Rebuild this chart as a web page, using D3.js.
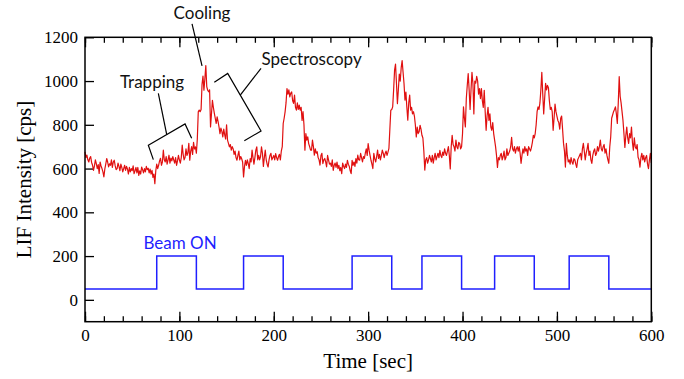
<!DOCTYPE html>
<html>
<head>
<meta charset="utf-8">
<script src="https://cdn.jsdelivr.net/npm/d3@7"></script>
<style>
  body { margin: 0; background: #fff; }
  svg { display: block; }
</style>
</head>
<body>
<svg id="chart"></svg>
<script>
// LIF signal, one value per second from t = 0 to 600 s
const lifCps = [
  676, 650, 662, 640, 630, 648, 655, 628, 615, 592, 612, 640, 622, 600, 618, 578, 630, 612, 600, 585,
  562, 598, 620, 646, 630, 608, 622, 615, 640, 605, 630, 638, 612, 595, 600, 625, 610, 590, 620, 605,
  585, 600, 615, 592, 610, 598, 575, 605, 585, 600, 590, 612, 577, 590, 605, 580, 605, 569, 590, 575,
  607, 595, 580, 600, 585, 610, 595, 601, 580, 598, 575, 592, 560, 575, 531, 590, 620, 600, 615, 635,
  647, 615, 630, 684, 640, 630, 655, 620, 640, 661, 625, 648, 635, 655, 640, 625, 650, 615, 635, 660,
  640, 625, 650, 707, 665, 640, 650, 690, 660, 672, 715, 638, 680, 700, 665, 720, 690, 699, 670, 735,
  859, 867, 860, 870, 985, 1023, 958, 1010, 1071, 975, 958, 951, 960, 790, 850, 912, 880, 853, 830, 806,
  836, 815, 790, 760, 785, 770, 745, 780, 755, 735, 800, 730, 715, 699, 710, 684, 700, 690, 665, 680,
  650, 638, 660, 680, 640, 655, 645, 630, 562, 610, 638, 615, 640, 623, 600, 645, 630, 684, 650, 620,
  650, 684, 699, 640, 660, 640, 655, 699, 670, 610, 650, 684, 640, 620, 607, 640, 660, 670, 640, 650,
  660, 640, 668, 650, 638, 655, 665, 640, 680, 700, 806, 830, 859, 900, 966, 940, 960, 928, 945, 950,
  910, 898, 936, 880, 867, 900, 870, 890, 867, 880, 820, 860, 800, 684, 760, 730, 745, 714, 700, 684,
  684, 730, 700, 661, 690, 670, 677, 650, 640, 616, 660, 670, 623, 640, 646, 630, 608, 660, 640, 620,
  625, 610, 640, 592, 615, 625, 605, 630, 600, 615, 590, 605, 577, 625, 610, 600, 620, 605, 638, 620,
  610, 590, 577, 638, 615, 630, 610, 645, 625, 661, 640, 638, 669, 650, 630, 655, 646, 670, 690, 660,
  714, 684, 660, 638, 620, 600, 669, 645, 630, 655, 684, 646, 665, 640, 660, 684, 670, 650, 669, 680,
  660, 675, 692, 780, 867, 870, 882, 960, 1050, 1078, 990, 897, 960, 1032, 1000, 1060, 1094, 1040, 989, 913,
  950, 880, 821, 900, 936, 867, 880, 850, 860, 840, 800, 745, 790, 760, 768, 798, 780, 752, 740, 680,
  593, 640, 650, 625, 640, 660, 645, 630, 660, 625, 650, 670, 640, 655, 670, 650, 683, 660, 650, 675,
  660, 690, 670, 660, 680, 700, 660, 598, 700, 752, 710, 700, 680, 730, 700, 690, 720, 714, 690, 700,
  760, 882, 830, 790, 920, 980, 1034, 960, 870, 960, 1040, 990, 850, 1000, 990, 1022, 1000, 940, 966, 920,
  966, 910, 880, 958, 860, 775, 840, 880, 820, 850, 790, 775, 810, 760, 730, 700, 660, 605, 650, 640,
  660, 670, 640, 655, 680, 640, 650, 690, 660, 670, 680, 700, 743, 690, 680, 700, 670, 690, 700, 680,
  700, 670, 624, 660, 690, 670, 700, 680, 690, 660, 700, 690, 680, 697, 720, 752, 740, 760, 800, 860,
  882, 870, 900, 960, 1040, 940, 850, 920, 990, 960, 980, 970, 910, 870, 880, 860, 775, 830, 895, 860,
  840, 820, 810, 780, 830, 840, 780, 715, 680, 607, 715, 660, 630, 640, 620, 650, 630, 620, 645, 640,
  620, 605, 640, 650, 660, 670, 640, 690, 715, 680, 640, 670, 690, 715, 660, 680, 640, 624, 660, 680,
  690, 660, 670, 700, 680, 700, 730, 690, 680, 700, 710, 670, 690, 660, 640, 624, 700, 745, 830, 845,
  860, 870, 882, 850, 806, 900, 1020, 930, 900, 860, 820, 760, 697, 750, 790, 740, 715, 760, 740, 790,
  720, 684, 740, 700, 690, 710, 652, 640, 606, 650, 670, 640, 660, 630, 650, 660, 620, 600, 640, 670,
  626
];

// beam on/off periods [sec]
const beamOn  = [76, 168, 283, 357, 434, 513];
const beamOff = [118, 210, 325, 399, 476, 555];
const beamLow = 50;
const beamHigh = 200;

const xTicks = [0, 100, 200, 300, 400, 500, 600];
const yTicks = [0, 200, 400, 600, 800, 1000, 1200];

// annotation labels, in data units
const notes = [
  { text: 'Cooling', t: 124, v: 1282 },
  { text: 'Trapping', t: 71, v: 966 },
  { text: 'Spectroscopy', t: 240, v: 1073 }
];
const noteLines = [
  [[113.4, 1261], [124, 1069]],
  [[72.4, 641], [67.1, 707], [106, 804], [113, 738]],
  [[77.7, 944], [86.6, 755]],
  [[137, 994], [151.2, 1035], [186.5, 772], [168.8, 727]],
  [[164.5, 936], [186.5, 1058]]
];

function drawChart() {
  const width = 684, height = 379;
  const chart = d3.select('#chart')
    .attr('width', width)
    .attr('height', height);

  const x = d3.scaleLinear().domain([0, 600]).range([85, 651.3]);
  const y = d3.scaleLinear().domain([-100, 1200]).range([321.7, 37.3]);

  const serif = '"Liberation Serif", "Times New Roman", serif';
  const sans = 'Lato, "Open Sans", sans-serif';
  const fmt = d3.format('d');

  // minor ticks bottom / top
  const minor = d3.range(0, 601, 20);
  chart.append('g')
    .attr('transform', `translate(0,${y(-100)})`)
    .call(d3.axisBottom(x).tickValues(minor).tickSizeInner(-5.5).tickSizeOuter(0).tickFormat(''))
    .call(g => g.select('.domain').remove());
  chart.append('g')
    .attr('transform', `translate(0,${y(1200)})`)
    .call(d3.axisTop(x).tickValues(minor).tickSizeInner(-5.5).tickSizeOuter(0).tickFormat(''))
    .call(g => g.select('.domain').remove());

  // major ticks
  chart.append('g')
    .attr('transform', `translate(0,${y(-100)})`)
    .call(d3.axisBottom(x).tickValues(xTicks).tickSizeInner(-10).tickSizeOuter(0).tickPadding(7).tickFormat(fmt))
    .call(g => g.select('.domain').remove());
  chart.append('g')
    .attr('transform', `translate(0,${y(1200)})`)
    .call(d3.axisTop(x).tickValues(xTicks).tickSizeInner(-10).tickSizeOuter(0).tickFormat(''))
    .call(g => g.select('.domain').remove());
  chart.append('g')
    .attr('transform', `translate(${x(0)},0)`)
    .call(d3.axisLeft(y).tickValues(yTicks).tickSizeInner(-9).tickSizeOuter(0).tickPadding(7).tickFormat(fmt))
    .call(g => g.select('.domain').remove());

  chart.selectAll('.tick text')
    .style('font-family', serif)
    .style('font-size', '17px')
    .attr('fill', '#000');
  chart.selectAll('.tick line').attr('stroke', '#000').attr('stroke-width', 1.3);

  // beam on trace
  const beamPts = [[0, beamLow]];
  beamOn.forEach((t0, i) => {
    beamPts.push([t0, beamLow], [t0, beamHigh], [beamOff[i], beamHigh], [beamOff[i], beamLow]);
  });
  beamPts.push([600, beamLow]);

  const line = d3.line().x(d => x(d[0])).y(d => y(d[1]));

  chart.append('path')
    .attr('d', line(beamPts))
    .attr('fill', 'none')
    .attr('stroke', '#1f1fff')
    .attr('stroke-width', 1.5);

  // LIF trace
  chart.append('path')
    .datum(lifCps)
    .attr('d', d3.line().x((d, i) => x(i)).y(d => y(d)))
    .attr('fill', 'none')
    .attr('stroke', '#e01010')
    .attr('stroke-width', 1.2)
    .attr('stroke-linejoin', 'round');

  // frame
  chart.append('rect')
    .attr('x', x(0)).attr('y', y(1200))
    .attr('width', x(600) - x(0)).attr('height', y(-100) - y(1200))
    .attr('fill', 'none')
    .attr('stroke', '#000')
    .attr('stroke-width', 1.5);

  // annotations
  noteLines.forEach(pts => {
    chart.append('path')
      .attr('d', line(pts))
      .attr('fill', 'none')
      .attr('stroke', '#000')
      .attr('stroke-width', 1.2);
  });
  chart.selectAll('text.note')
    .data(notes).enter()
    .append('text')
    .attr('class', 'note')
    .attr('x', d => x(d.t))
    .attr('y', d => y(d.v))
    .attr('text-anchor', 'middle')
    .attr('font-family', sans)
    .attr('font-size', 17)
    .attr('fill', '#111')
    .text(d => d.text);

  chart.append('text')
    .attr('x', x(100.7))
    .attr('y', y(234))
    .attr('text-anchor', 'middle')
    .attr('font-family', sans)
    .attr('font-size', 17)
    .attr('fill', '#1f1fff')
    .text('Beam ON');

  // axis titles
  chart.append('text')
    .attr('x', (x(0) + x(600)) / 2)
    .attr('y', 368)
    .attr('text-anchor', 'middle')
    .attr('font-family', serif)
    .attr('font-size', 21)
    .text('Time [sec]');

  chart.append('text')
    .attr('transform', `translate(31,${(y(-100) + y(1200)) / 2}) rotate(-90)`)
    .attr('text-anchor', 'middle')
    .attr('font-family', serif)
    .attr('font-size', 21)
    .text('LIF Intensity [cps]');
}

drawChart();
</script>
</body>
</html>
